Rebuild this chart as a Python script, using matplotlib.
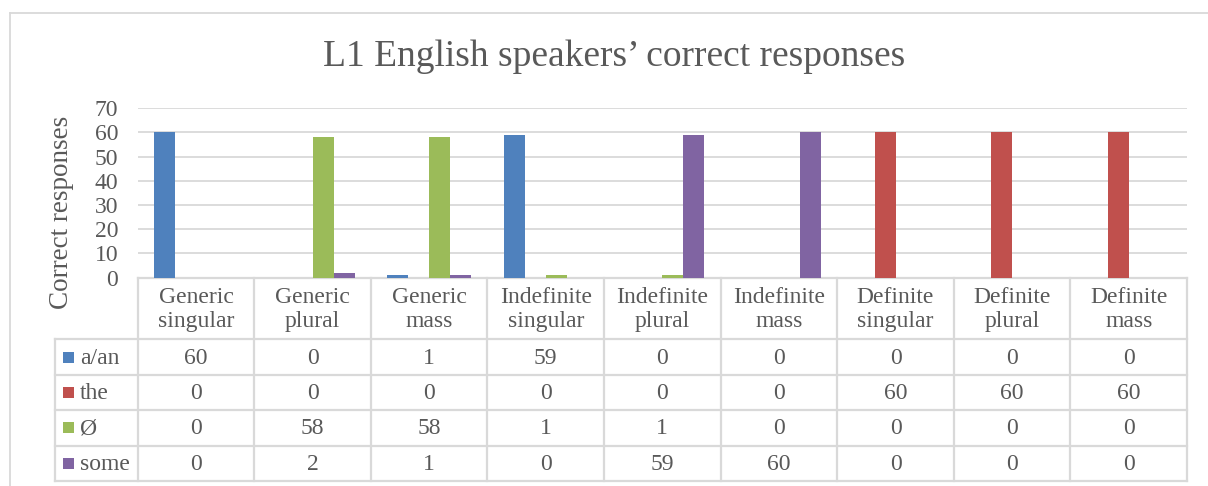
import numpy as np
import matplotlib.pyplot as plt

plt.rcParams['font.family'] = ['Liberation Serif', 'DejaVu Serif']

categories = ["Generic\nsingular", "Generic\nplural", "Generic\nmass",
              "Indefinite\nsingular", "Indefinite\nplural", "Indefinite\nmass",
              "Definite\nsingular", "Definite\nplural", "Definite\nmass"]
series_names = ["a/an", "the", "Ø", "some"]
a_an = [60, 0, 1, 59, 0, 0, 0, 0, 0]
the = [0, 0, 0, 0, 0, 0, 60, 60, 60]
zero = [0, 58, 58, 1, 1, 0, 0, 0, 0]
some = [0, 2, 1, 0, 59, 60, 0, 0, 0]
series = [a_an, the, zero, some]
colors = ["#4F81BD", "#C0504D", "#9BBB59", "#8064A2"]

TXT = "#595959"
GRID = "#D9D9D9"
W, H = 1208, 486
FS = 17

fig = plt.figure(figsize=(W / 100, H / 100), dpi=100)

# overlay in pixel coords for border and data table
ov = fig.add_axes([0, 0, 1, 1])
ov.set_xlim(0, W)
ov.set_ylim(H, 0)
ov.axis('off')

# plot area (pixels)
px0, px1 = 137.7, 1187
py_top, py_bot = 108.3, 277.5
ax = fig.add_axes([px0 / W, 1 - py_bot / H, (px1 - px0) / W, (py_bot - py_top) / H])

n = len(categories)
x = np.arange(n)
bw = 0.18
for j, (vals, c) in enumerate(zip(series, colors)):
    ax.bar(x + (j - 1.5) * bw, vals, width=bw, color=c, linewidth=0, zorder=3)

ax.set_xlim(-0.5, n - 0.5)
ax.set_ylim(0, 70)
ax.set_yticks(range(0, 71, 10))
ax.set_xticks([])
ax.grid(axis='y', color=GRID, linewidth=1.3, zorder=0)
for s in ax.spines.values():
    s.set_visible(False)
ax.tick_params(axis='y', length=0, pad=14, labelsize=FS, labelcolor=TXT)
ax.set_facecolor('none')

# outer chart border (top and left visible)
ov.plot([10, W], [13, 13], color=GRID, lw=1.3)
ov.plot([10, 10], [13, H], color=GRID, lw=1.3)

ov.text(614, 57, "L1 English speakers\u2019 correct responses", ha='center', va='center',
        fontsize=27, color=TXT)
ov.text(62, 212, "Correct responses", rotation=90, ha='center', va='center',
        fontsize=19.5, color=TXT)

# data table
col_w = (px1 - px0) / n
hdr_bot = 339.3
row_h = (481 - hdr_bot) / 4
tl = 55
lc = dict(color=GRID, lw=1.6, solid_capstyle='projecting')
for i in range(n + 1):
    xx = px0 + i * col_w
    ov.plot([xx, xx], [py_bot, 481], **lc)
ov.plot([tl, tl], [hdr_bot, 481], **lc)
ov.plot([px0, px1], [py_bot, py_bot], **lc)
for r in range(5):
    yy = hdr_bot + r * row_h
    ov.plot([tl, px1], [yy, yy], **lc)

for i, cat in enumerate(categories):
    ov.text(px0 + (i + 0.5) * col_w, (py_bot + hdr_bot) / 2 + 1, cat, ha='center', va='center',
            fontsize=FS, color=TXT, linespacing=1.2)

for r, (name, vals, c) in enumerate(zip(series_names, series, colors)):
    yc = hdr_bot + (r + 0.5) * row_h
    ov.add_patch(plt.Rectangle((63, yc - 5.5), 11, 11, color=c, lw=0))
    ov.text(80, yc + 1, name, ha='left', va='center', fontsize=FS, color=TXT)
    for i, v in enumerate(vals):
        ov.text(px0 + (i + 0.5) * col_w, yc + 1, str(v), ha='center', va='center',
                fontsize=FS, color=TXT)

fig.savefig("out.png", dpi=100)
